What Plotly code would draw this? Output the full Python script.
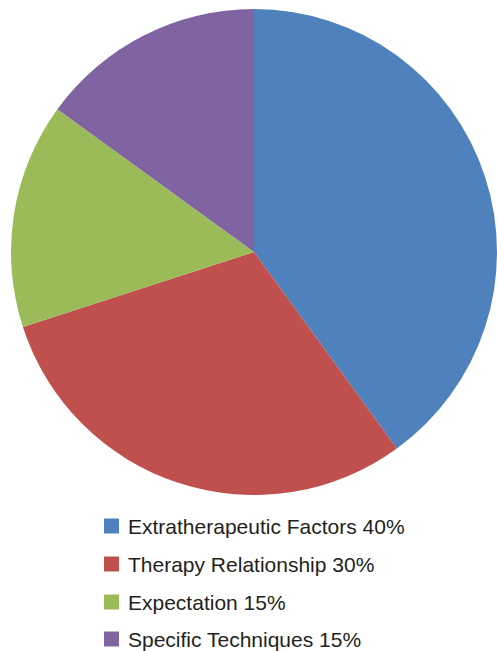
import plotly.graph_objects as go

labels = ["Extratherapeutic Factors", "Therapy Relationship", "Expectation", "Specific Techniques"]
values = [40, 30, 15, 15]
legend_text = ["Extratherapeutic Factors 40%", "Therapy Relationship 30%", "Expectation 15%", "Specific Techniques 15%"]
colors = ["#4F81BD", "#C0504D", "#9BBB59", "#8064A2"]

W, H = 497, 651

fig = go.Figure(go.Pie(
    labels=labels, values=values, sort=False, direction="clockwise", rotation=0,
    marker=dict(colors=colors, line=dict(width=0)),
    textinfo="none", hoverinfo="label+percent", showlegend=False,
    domain=dict(x=[11 / W, 1.0], y=[1 - 496 / H, 1 - 8 / H]),
))

row_y = [526, 564, 602, 639]
shapes = []
annotations = []
for txt, col, yp in zip(legend_text, colors, row_y):
    shapes.append(dict(type="rect", xref="paper", yref="paper",
                       x0=104 / W, x1=119 / W, y0=1 - (yp + 7.5) / H, y1=1 - (yp - 7.5) / H,
                       fillcolor=col, line=dict(width=0)))
    annotations.append(dict(text=txt, xref="paper", yref="paper", x=126 / W, y=1 - yp / H,
                            xanchor="left", yanchor="middle", showarrow=False,
                            font=dict(family="Liberation Sans, Arial, sans-serif", size=21, color="#231F20")))

fig.update_layout(width=W, height=H, margin=dict(l=0, r=0, t=0, b=0),
                  paper_bgcolor="white", plot_bgcolor="white",
                  shapes=shapes, annotations=annotations)
fig.write_html("out.html")
